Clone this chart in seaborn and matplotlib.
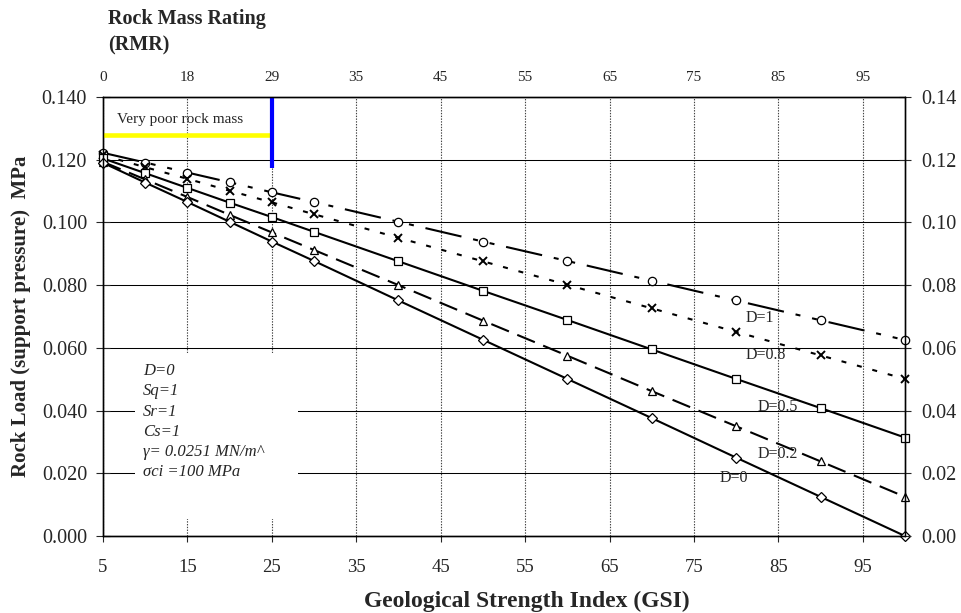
import numpy as np
import pandas as pd
import matplotlib
matplotlib.use("Agg")
import matplotlib.pyplot as plt
from matplotlib.patches import Rectangle
import seaborn as sns

# ---------------- data ----------------
gsi = [5, 10, 15, 20, 25, 30, 40, 50, 60, 70, 80, 90, 100]
load_d1 = [0.1222, 0.1191, 0.1159, 0.1128, 0.1096, 0.1065, 0.1002, 0.0939,
           0.0877, 0.0814, 0.0751, 0.0688, 0.0625]
load_d08 = [0.1214, 0.1176, 0.1139, 0.1101, 0.1064, 0.1026, 0.0951, 0.0876,
            0.0801, 0.0726, 0.0651, 0.0576, 0.0501]
load_d05 = [0.1204, 0.1157, 0.1110, 0.1063, 0.1017, 0.0970, 0.0876, 0.0782,
            0.0689, 0.0595, 0.0501, 0.0408, 0.0314]
load_d02 = [0.1193, 0.1137, 0.1081, 0.1024, 0.0968, 0.0912, 0.0800, 0.0687,
            0.0575, 0.0462, 0.0350, 0.0238, 0.0125]
load_d0 = [0.1190, 0.1127, 0.1065, 0.1002, 0.0939, 0.0877, 0.0751, 0.0626,
           0.0501, 0.0376, 0.0250, 0.0125, 0.0000]
series_names = ["D=1", "D=0.8", "D=0.5", "D=0.2", "D=0"]
gsi_ticks = [5, 15, 25, 35, 45, 55, 65, 75, 85, 95]
rmr_labels = ["0", "18", "29", "35", "45", "55", "65", "75", "85", "95"]
y_ticks = [0.00, 0.02, 0.04, 0.06, 0.08, 0.10, 0.12, 0.14]
info_lines = ["D=0", "Sq=1", "Sr=1", "Cs=1", "γ= 0.0251 MN/m^", "σci =100 MPa"]

# ---------------- style ----------------
sns.set_style("white")
plt.rcParams["font.family"] = ["Liberation Serif", "DejaVu Serif"]
plt.rcParams["lines.scale_dashes"] = False
plt.rcParams["axes.linewidth"] = 0.9

fig = plt.figure(figsize=(9.62, 6.13), dpi=100)
ax = fig.add_axes([0.1071, 0.1256, 0.8336, 0.7162])

df = pd.DataFrame({
    "GSI": gsi * 5,
    "load": load_d1 + load_d08 + load_d05 + load_d02 + load_d0,
    "D": sum([[n] * len(gsi) for n in series_names], []),
})

styles = {
    "D=1": dict(marker="o", ms=6, mew=0.9,
                linestyle=(0, (26.6, 8.6, 3.6, 8.6, 3.6, 8.6))),
    "D=0.8": dict(marker="x", ms=6, mew=1.4, linestyle=(0, (3.6, 7.9))),
    "D=0.5": dict(marker="s", ms=5.5, mew=0.9, linestyle="-"),
    "D=0.2": dict(marker="^", ms=6, mew=0.9, linestyle=(0, (13.7, 6.5))),
    "D=0": dict(marker="D", ms=5, mew=0.9, linestyle="-"),
}
for name in series_names:
    sub = df[df["D"] == name]
    st = styles[name]
    sns.lineplot(data=sub, x="GSI", y="load", ax=ax, color="black",
                 linewidth=1.5, marker=st["marker"], linestyle=st["linestyle"],
                 markersize=st["ms"], mfc="white", mec="black", mew=st["mew"],
                 errorbar=None, zorder=3, clip_on=False)

# axes ranges / ticks
ax.set_xlim(5, 100)
ax.set_ylim(0, 0.14)
ax.set_xticks(gsi_ticks)
ax.set_xticklabels([str(t) for t in gsi_ticks], fontsize=13.5)
ax.set_yticks(y_ticks)
ax.set_yticklabels([f"{v:.3f}" for v in y_ticks], fontsize=14.5)
ax.tick_params(axis="x", direction="out", length=4.3, width=0.8, pad=12.5,
               bottom=True)
ax.tick_params(axis="y", direction="inout", length=10, width=0.8, pad=6.5,
               left=True)
ax.set_xlabel("")
ax.set_ylabel("Rock Load (support pressure)  MPa", fontsize=15,
              fontweight="bold", labelpad=8)

# grid
ax.set_axisbelow(True)
ax.grid(axis="y", color="black", linewidth=0.75, linestyle="-")
ax.grid(axis="x", color="#444444", linewidth=0.8, linestyle=(0, (1, 1)))

# white info box hiding grid
ax.add_patch(Rectangle((8.8, 0.0055), 19.3, 0.053, facecolor="white",
                       edgecolor="none", zorder=1))
info_y = [0.0526, 0.0463, 0.0396, 0.0332, 0.0268, 0.0204]
for txt, yy in zip(info_lines, info_y):
    ax.text(9.7, yy, txt, fontsize=12, style="italic", va="center",
            ha="left", zorder=4)

# annotations
ax.plot([5, 25], [0.1279, 0.1279], color="#ffff00", linewidth=3.3,
        solid_capstyle="butt", zorder=4)
ax.plot([25, 25], [0.1173, 0.14], color="#0000ff", linewidth=3,
        solid_capstyle="butt", zorder=4)
ax.text(6.6, 0.1328, "Very poor rock mass", fontsize=11, va="center",
        ha="left", zorder=4)

label_pos = {"D=1": (81.1, 0.0696), "D=0.8": (81.1, 0.0577),
             "D=0.5": (82.6, 0.0412), "D=0.2": (82.6, 0.0261),
             "D=0": (78.1, 0.0184)}
for name in series_names:
    lx, ly = label_pos[name]
    ax.text(lx, ly, name, fontsize=11.5, va="center", ha="left", zorder=4)

# right axis
axr = ax.twinx()
axr.set_ylim(0, 0.14)
axr.set_yticks(y_ticks)
axr.set_yticklabels([f"{v:.2f}" for v in y_ticks], fontsize=14.5)
axr.tick_params(axis="y", direction="inout", length=8, width=0.8, pad=7.5,
                right=True)
axr.grid(False)

# top axis (RMR)
axt = ax.twiny()
axt.set_xlim(5, 100)
axt.set_xticks(gsi_ticks)
axt.set_xticklabels(rmr_labels, fontsize=11)
axt.tick_params(axis="x", length=0, pad=9, top=True)
axt.grid(False)

for a in (ax, axr, axt):
    for sp in a.spines.values():
        sp.set_color("black")
        sp.set_linewidth(0.9)
        sp.set_visible(True)

fig.text(108 / 962, 1 - 19 / 613, "Rock Mass Rating", fontsize=14.5,
         fontweight="bold", ha="left", va="center")
fig.text(108 / 962, 1 - 45 / 613, "(RMR)", fontsize=14.5,
         fontweight="bold", ha="left", va="center")
fig.text(527 / 962, 1 - 601 / 613, "Geological Strength Index (GSI)",
         fontsize=17, fontweight="bold", ha="center", va="center")

fig.savefig("out.png", dpi=100)
